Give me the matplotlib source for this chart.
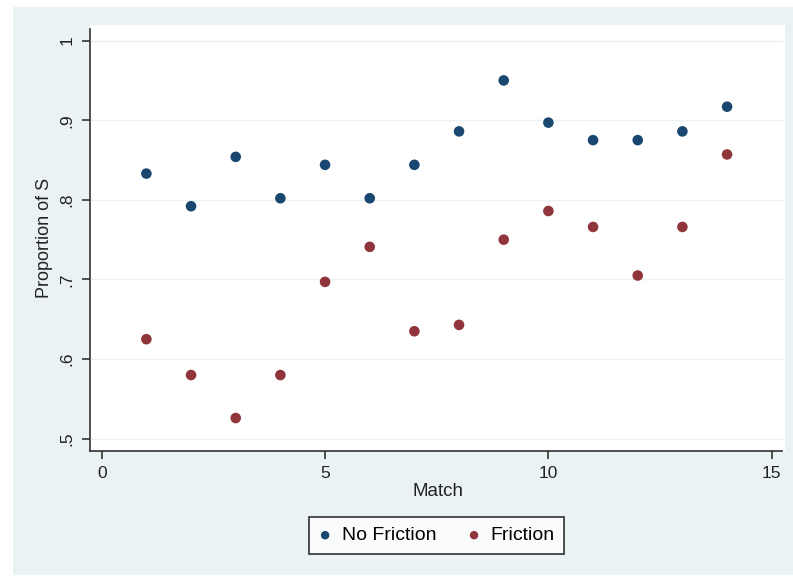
import matplotlib
matplotlib.use("Agg")
import matplotlib.pyplot as plt
from matplotlib.patches import Rectangle

plt.rcParams['font.family'] = ['Liberation Sans', 'DejaVu Sans']

match = [1, 2, 3, 4, 5, 6, 7, 8, 9, 10, 11, 12, 13, 14]
no_friction = [0.833, 0.792, 0.854, 0.802, 0.844, 0.802, 0.844, 0.886,
               0.950, 0.897, 0.875, 0.875, 0.886, 0.917]
friction = [0.625, 0.580, 0.526, 0.580, 0.697, 0.741, 0.635, 0.643,
            0.750, 0.786, 0.766, 0.705, 0.766, 0.857]
yticks = [0.5, 0.6, 0.7, 0.8, 0.9, 1.0]
ytick_labels = ['.5', '.6', '.7', '.8', '.9', '1']
xticks = [0, 5, 10, 15]

navy = '#1a476f'
maroon = '#90353b'
bg = '#eaf2f3'

W, H = 793, 577
fig = plt.figure(figsize=(W / 100, H / 100), dpi=100)
fig.patch.set_facecolor('white')
fig.patches.append(Rectangle((13 / W, (577 - 575) / H), (W - 13) / W, (575 - 7) / H,
                             transform=fig.transFigure, facecolor=bg,
                             edgecolor='none', zorder=-10))

ax = fig.add_axes([90 / W, 1 - 451 / H, 695 / W, 426 / H])
ax.set_zorder(1)
ax.set_facecolor('white')
ax.set_xlim(-0.262, 15.297)
ax.set_ylim(0.4846, 1.0196)

for s in ['top', 'right']:
    ax.spines[s].set_visible(False)
for s in ['left', 'bottom']:
    ax.spines[s].set_color('#333333')
    ax.spines[s].set_linewidth(1.2)
ax.spines['left'].set_bounds(0.4846, 1.0146)
ax.spines['bottom'].set_bounds(-0.262, 15.22)

for yv in yticks:
    ax.plot([-0.262, 15.22], [yv, yv], color=bg, lw=1.0, zorder=1)

ax.scatter(match, no_friction, s=58, color=navy, zorder=3, label='No Friction',
           edgecolors='none')
ax.scatter(match, friction, s=58, color=maroon, zorder=3, label='Friction',
           edgecolors='none')

ax.set_yticks(yticks)
ax.set_yticklabels(ytick_labels, rotation=90, va='center')
ax.set_xticks(xticks)
ax.tick_params(axis='both', direction='out', length=6, width=1.2,
               color='#333333', labelsize=12.5, labelcolor='#222222', pad=5)
ax.set_xlabel('Match', fontsize=13.5, color='#222222', labelpad=1)
ax.set_ylabel('Proportion of S', fontsize=13, color='#222222', labelpad=5)

handles, labels = ax.get_legend_handles_labels()
leg = fig.legend(handles, labels, loc='center',
                 bbox_to_anchor=(436.5 / W, 1 - 535.5 / H), ncol=2,
                 frameon=True, fancybox=False, fontsize=14, markerscale=0.8,
                 handletextpad=0.5, columnspacing=1.6, borderpad=0.48,
                 handlelength=0.7, borderaxespad=0)
leg.get_frame().set_edgecolor('black')
leg.get_frame().set_linewidth(1.2)
leg.get_frame().set_facecolor('white')

fig.savefig('out.png', dpi=100)
